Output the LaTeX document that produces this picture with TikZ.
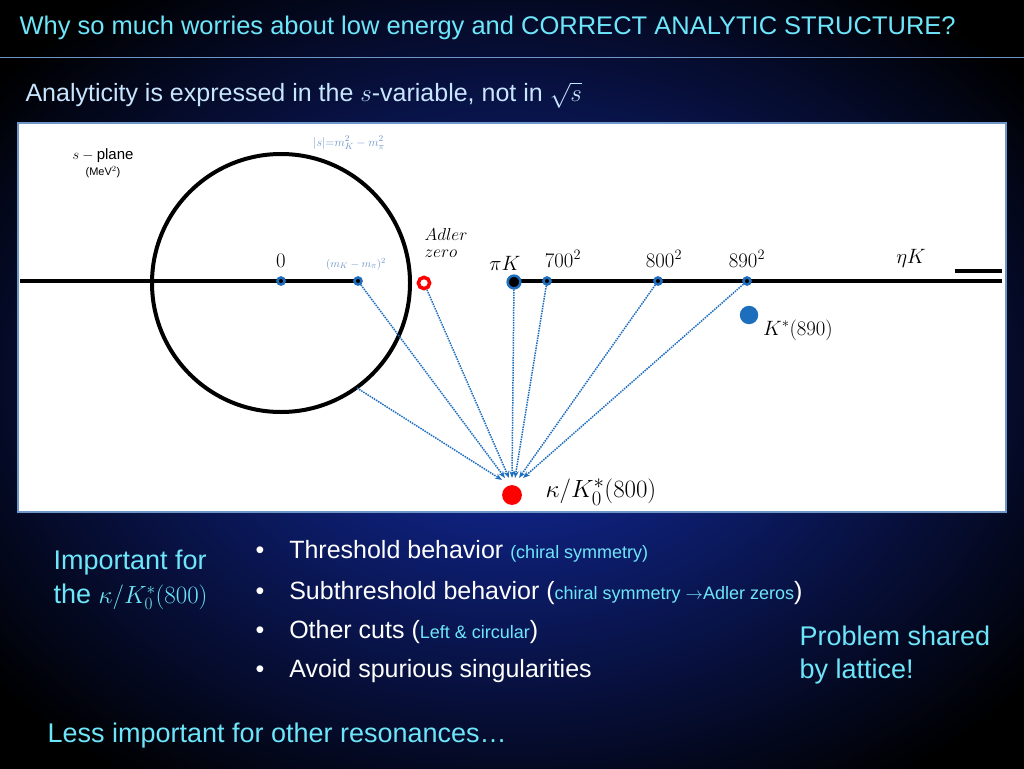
\documentclass[tikz,border=0pt]{standalone}
\usepackage{fontspec}
\setmainfont{Liberation Sans}
\usepackage{amsmath}
\usetikzlibrary{arrows.meta}

\definecolor{cyantxt}{RGB}{110,230,250}
\definecolor{paletxt}{RGB}{200,230,255}
\definecolor{axblue}{RGB}{30,110,190}
\definecolor{grayblue}{RGB}{110,150,200}
\tikzset{
  tick/.style={circle,fill=black,draw=axblue,line width=2.5pt,inner sep=2.5pt},
  cutline/.style={line width=4pt},
  feed/.style={densely dotted,line width=1.5pt,draw=axblue,-{Stealth[length=7pt]}},
  bullet/.style={anchor=west,text=white,font=\fontsize{25}{29}\selectfont},
  lbl/.style={font=\fontsize{22}{25}\selectfont}
}
\newcommand{\aside}[1]{{\color{cyantxt}\fontsize{18}{21}\selectfont #1}}

\begin{document}
\begin{tikzpicture}[x=1pt,y=-1pt]
  \useasboundingbox (0,0) rectangle (1024,768);
  \fill[black] (0,0) rectangle (1024,768);
  \shade[inner color={rgb,255:red,20;green,45;blue,170},outer color=black] (-150,-100) rectangle (1174,868);
  \draw[grayblue,line width=0.8pt] (0,57) -- (1024,57);
  \node[anchor=west,text=cyantxt,font=\fontsize{25.5}{29}\selectfont] (title) at (16,28)
    {Why so much worries about low energy and CORRECT ANALYTIC STRUCTURE?};
  \node[anchor=west,text=paletxt,font=\fontsize{25}{29}\selectfont] (sub) at (22,95)
    {Analyticity is expressed in the $s$-variable, not in $\sqrt{s}$};

  % the s-plane
  \draw[fill=white,draw=grayblue,line width=1.5pt] (18,123) rectangle (1006,512);
  \draw[line width=4pt] (281,283) circle[radius=129];
  \coordinate (lcut) at (20,281);
  \coordinate (rcut) at (1002,281);
  \coordinate (circ) at (357,388);
  \draw[cutline] (lcut) -- (358,281);
  \draw[cutline] (514,281) -- (rcut);
  \draw[cutline] (955,271) -- (1002,271);
  \node[tick] (zero) at (281,281) {};
  \node[tick] (thr) at (358,281) {};
  \node[circle,draw=red,line width=3.5pt,inner sep=4pt] (adler) at (424,283) {};
  \node[circle,fill=black,draw=axblue,line width=2.5pt,inner sep=4.5pt] (piK) at (514,282) {};
  \node[tick] (p700) at (547,281) {};
  \node[tick] (p800) at (658,281) {};
  \node[tick] (p890) at (747,281) {};
  \node[circle,fill=axblue,inner sep=6.5pt] (kstar) at (749,315) {};
  \node[circle,fill=red,inner sep=7pt] (kappa) at (512,495) {};

  \draw[feed] (thr) -- (505,478);
  \draw[feed] (adler) -- (509,478);
  \draw[feed] (piK) -- (512,478);
  \draw[feed] (p700) -- (515,478);
  \draw[feed] (p800) -- (519,478);
  \draw[feed] (p890) -- (523,478);
  \draw[feed] (circ) -- (502,480);

  \node[lbl] (szero) at (281,261) {$0$};
  \node[text=grayblue,font=\fontsize{11}{13}\selectfont] (sthr) at (356,264) {$(m_K-m_\pi)^2$};
  \node[align=left,font=\fontsize{18}{20}\selectfont] (sadler) at (446,243) {$Adler$\\[-3pt]$zero$};
  \node[lbl] (spiK) at (505,263) {$\pi K$};
  \node[lbl] (s700) at (563,259) {$700^2$};
  \node[lbl] (s800) at (664,259) {$800^2$};
  \node[lbl] (s890) at (747,259) {$890^2$};
  \node[lbl] (setaK) at (911,258) {$\eta K$};
  \node[lbl] (skstar) at (798,330) {$K^*(890)$};
  \node[font=\fontsize{31}{35}\selectfont] (skappa) at (601,492) {$\kappa/K_0^*(800)$};
  \node[text=grayblue,font=\fontsize{13}{15}\selectfont] (scirc) at (349,143) {$|s|{=}m_K^2-m_\pi^2$};
  \node[font=\fontsize{15}{17}\selectfont] (splane) at (103,156) {$s-\mathrm{plane}$};
  \node[font=\fontsize{11}{13}\selectfont] (sunit) at (103,172) {(MeV$^2$)};

  % bullets
  \node[bullet] (b1) at (252,551) {•\quad Threshold behavior \aside{(chiral symmetry)}};
  \node[bullet] (b2) at (252,593) {•\quad Subthreshold behavior (\aside{chiral symmetry $\rightarrow$Adler zeros})};
  \node[bullet] (b3) at (252,632) {•\quad Other cuts (\aside{Left \& circular})};
  \node[bullet] (b4) at (252,671) {•\quad Avoid spurious singularities};
  \node[anchor=west,align=left,text=cyantxt,font=\fontsize{27}{34}\selectfont] (imp) at (50,580)
    {Important for\\the $\kappa/K_0^*(800)$};
  \node[anchor=west,align=left,text=cyantxt,font=\fontsize{27}{33}\selectfont] (lat) at (796,655)
    {Problem shared\\by lattice!};
  \node[anchor=west,text=cyantxt,font=\fontsize{27}{31}\selectfont] (less) at (44,736)
    {Less important for other resonances\dots};
\end{tikzpicture}
\end{document}
